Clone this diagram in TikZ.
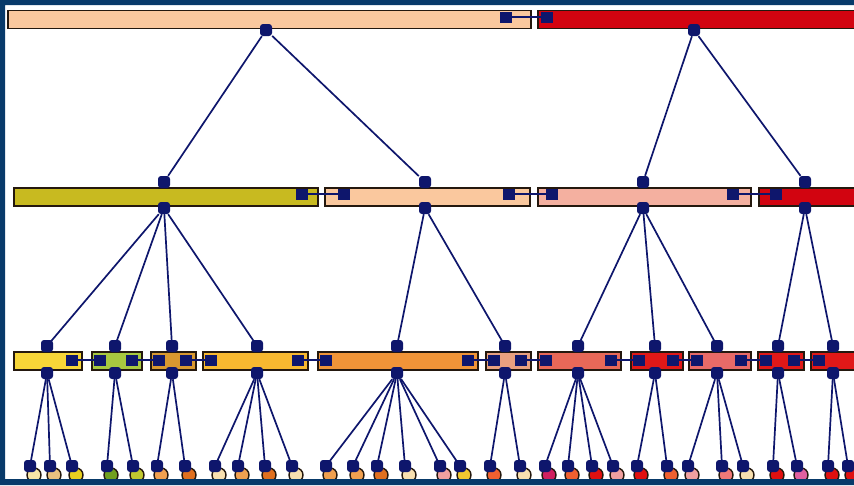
\documentclass[tikz,border=0pt]{standalone}
\usetikzlibrary{positioning}
\definecolor{frameblue}{RGB}{8,58,106}
\definecolor{navy}{RGB}{14,22,108}
\definecolor{boxline}{RGB}{36,24,14}
\definecolor{peach}{RGB}{250,200,158}
\definecolor{deepred}{RGB}{210,4,16}
\definecolor{olive}{RGB}{200,186,32}
\definecolor{salmonlt}{RGB}{244,176,160}
\definecolor{yellowbx}{RGB}{248,214,56}
\definecolor{greenbx}{RGB}{168,200,64}
\definecolor{ochre}{RGB}{216,152,48}
\definecolor{amber}{RGB}{248,184,48}
\definecolor{orangebx}{RGB}{240,148,56}
\definecolor{rosebx}{RGB}{232,160,128}
\definecolor{corally}{RGB}{232,104,88}
\definecolor{redbx}{RGB}{224,24,24}
\definecolor{corallt}{RGB}{232,106,104}
% leaf colours
\definecolor{cream}{RGB}{248,230,168}
\definecolor{tan}{RGB}{232,192,128}
\definecolor{yellowlf}{RGB}{232,208,32}
\definecolor{greenlf}{RGB}{112,160,32}
\definecolor{limelf}{RGB}{192,200,48}
\definecolor{orangelf}{RGB}{240,160,80}
\definecolor{darkorange}{RGB}{224,112,32}
\definecolor{pale}{RGB}{248,224,176}
\definecolor{pinklf}{RGB}{240,160,160}
\definecolor{gold}{RGB}{240,200,48}
\definecolor{orangered}{RGB}{240,96,48}
\definecolor{magentalf}{RGB}{208,32,96}
\definecolor{redlf}{RGB}{224,16,16}
\definecolor{salmonlf}{RGB}{240,120,120}
\definecolor{pinkmag}{RGB}{224,96,160}

\tikzset{
  box/.style={draw=boxline,line width=1.8pt,inner sep=0pt,minimum height=18pt,anchor=west},
  dot/.style={fill=navy,rounded corners=3pt,inner sep=0pt,minimum size=12pt},
  link/.style={fill=navy,inner sep=0pt,minimum width=12pt,minimum height=11pt},
  edge/.style={navy,line width=1.7pt},
  cup/.style={circle,draw=boxline,line width=1.4pt,inner sep=0pt,minimum size=14pt}
}

\begin{document}
\begin{tikzpicture}[x=1pt,y=-1pt]
	\useasboundingbox (0,0) rectangle (854,485);
	\fill[white] (0,0) rectangle (854,485);
	\begin{scope}
		\clip (5,5) rectangle (854,479);
		% top level
		\node[box,fill=peach,minimum width=523pt] (b0a) at (7,19.5) {};
		\node[box,fill=deepred,minimum width=330pt] (b0b) at (537,19.5) {};
		\node[link] (k0a) at (506,17) {};
		\node[link] (k0b) at (547,17) {};
		\draw[edge] (k0a) -- (k0b);
		\node[dot] (u0a) at (266,30) {};
		\node[dot] (u0b) at (694,30) {};
		% second level
		\foreach \n/\l/\w/\c/\m/\p in {a/13/304/olive/164/a,b/324/205/peach/425/a,c/537/213/salmonlt/643/b,d/758/110/deepred/805/b} {
			\node[box,fill=\c,minimum width=\w pt] (b1\n) at (\l,197) {};
			\node[dot] (t1\n) at (\m,182) {};
			\node[dot] (u1\n) at (\m,208) {};
			\draw[edge] (u0\p) -- (t1\n);
		}
		\foreach \i/\x/\y in {1/302/344,2/509/552,3/733/776} {
			\node[link] (kr1\i) at (\x,194) {};
			\node[link] (kl1\i) at (\y,194) {};
			\draw[edge] (kr1\i) -- (kl1\i);
		}
		% third level
		\foreach \n/\l/\w/\c/\m/\p in {1/13/68/yellowbx/47/a,2/91/50/greenbx/115/a,3/150/45/ochre/172/a,4/202/105/amber/257/a,
			5/317/160/orangebx/397/b,6/485/45/rosebx/505/b,7/537/83/corally/578/c,8/630/52/redbx/655/c,
			9/688/62/corallt/717/c,10/757/46/redbx/778/d,11/810/60/redbx/833/d} {
			\node[box,fill=\c,minimum width=\w pt] (b2\n) at (\l,361) {};
			\draw[edge] (u1\p) -- (\m,346);
			\node[dot] (t2\n) at (\m,346) {};
			\node[dot] (u2\n) at (\m,373) {};
		}
		\foreach \i/\x/\y in {1/72/100,2/132/159,3/186/211,4/298/326,5/468/494,6/521/546,7/611/639,8/673/697,9/741/766,10/794/819} {
			\node[link] (kr2\i) at (\x,360) {};
			\node[link] (kl2\i) at (\y,360) {};
			\draw[edge] (kr2\i) -- (kl2\i);
		}
		% leaves
		\foreach \x/\c/\p [count=\i] in {30/cream/1,50/tan/1,72/yellowlf/1,107/greenlf/2,133/limelf/2,157/orangelf/3,185/darkorange/3,
			215/pale/4,238/orangelf/4,265/darkorange/4,292/pale/4,326/orangelf/5,353/orangelf/5,377/darkorange/5,405/pale/5,440/pinklf/5,460/gold/5,
			490/orangered/6,520/pale/6,545/magentalf/7,568/orangered/7,592/redlf/7,613/pinklf/7,637/redlf/8,667/orangered/8,
			688/pinklf/9,722/salmonlf/9,743/pale/9,773/redlf/10,797/pinkmag/10,828/redlf/11,848/redlf/11} {
			\node[cup,fill=\c] (c\i) at (\x+4,475) {};
			\draw[edge] (u2\p) -- (\x,466);
			\node[dot] (f\i) at (\x,466) {};
		}
	\end{scope}
	\fill[frameblue,even odd rule] (0,0) rectangle (854,485) (5,5) rectangle (860,479);
\end{tikzpicture}
\end{document}
